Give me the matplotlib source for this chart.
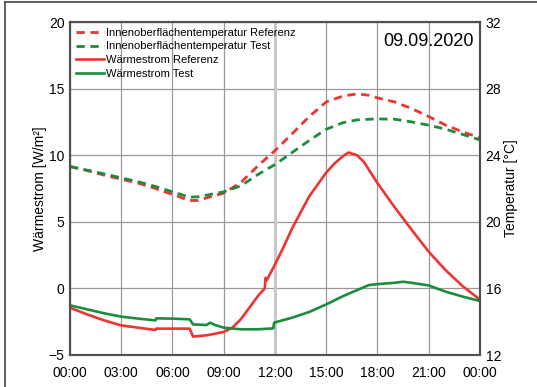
import numpy as np
import matplotlib
matplotlib.use('agg')
import matplotlib.pyplot as plt
from matplotlib.lines import Line2D

plt.rcParams['font.family'] = ['Liberation Sans', 'DejaVu Sans']

# Innenoberflaechentemperatur [degC], right axis
t_temp = [0, 1, 2, 3, 4, 5, 6, 7, 7.5, 8, 9, 10, 11, 12, 13, 14, 15, 16, 16.8, 17.5,
          18, 19, 20, 21, 22, 23, 24]
temp_ref = [23.32, 23.08, 22.8, 22.56, 22.32, 22.0, 21.64, 21.28, 21.28, 21.44, 21.72,
            22.36, 23.36, 24.28, 25.28, 26.32, 27.2, 27.56, 27.68, 27.6, 27.44, 27.2,
            26.8, 26.32, 25.8, 25.4, 25.04]
temp_test = [23.32, 23.1, 22.88, 22.64, 22.4, 22.12, 21.8, 21.48, 21.5, 21.6, 21.8,
             22.16, 22.84, 23.44, 24.16, 24.88, 25.56, 25.96, 26.12, 26.16, 26.18, 26.16,
             26.0, 25.8, 25.56, 25.24, 24.92]

# Waermestrom [W/m2], left axis
t_ref = [0, 1, 2, 3, 4, 5, 5.05, 6, 7, 7.1, 7.2, 8, 8.5, 9, 9.5, 10, 10.5, 11, 11.4,
         11.45, 11.5, 11.55, 11.8, 12, 12.5, 13, 14, 15, 15.5, 16, 16.3, 16.8, 17.2, 18,
         19, 20, 21, 22, 23, 24]
q_ref = [-1.45, -1.95, -2.4, -2.78, -2.95, -3.12, -3.02, -3.02, -3.02, -3.3, -3.62, -3.52,
         -3.4, -3.27, -2.95, -2.32, -1.45, -0.57, 0.0, 0.8, 0.6, 0.7, 1.3, 1.8, 3.1, 4.5,
         6.9, 8.7, 9.4, 9.95, 10.2, 10.0, 9.5, 7.9, 6.1, 4.4, 2.75, 1.35, 0.15, -0.85]
t_test = [0, 1, 2, 3, 4, 5, 5.05, 6, 7, 7.1, 7.2, 8, 8.2, 8.5, 9, 10, 11, 11.9, 11.95,
          13, 14, 15, 16, 17, 17.5, 18, 19, 19.5, 20, 21, 22, 23, 24]
q_test = [-1.27, -1.57, -1.87, -2.12, -2.27, -2.4, -2.25, -2.27, -2.32, -2.5, -2.7, -2.75,
          -2.57, -2.75, -2.95, -3.07, -3.07, -3.0, -2.57, -2.2, -1.77, -1.2, -0.57, -0.02,
          0.25, 0.32, 0.42, 0.5, 0.42, 0.22, -0.25, -0.62, -0.95]

xticks = [0, 3, 6, 9, 12, 15, 18, 21, 24]
xticklabels = ['00:00', '03:00', '06:00', '09:00', '12:00', '15:00', '18:00', '21:00', '00:00']

red = '#ee3333'
green = '#1a8c3c'
fsize = 10

fig = plt.figure(figsize=[5.37, 3.87], dpi=100)
ax = fig.add_axes([70/537, 1-355/387, 410/537, 333/387])
ax2 = ax.twinx()

l3, = ax.plot(t_ref, q_ref, '-', color=red, linewidth=1.9, label='Wärmestrom Referenz')
l4, = ax.plot(t_test, q_test, '-', color=green, linewidth=1.9, label='Wärmestrom Test')
l1, = ax2.plot(t_temp, temp_ref, '--', color=red, linewidth=2, dashes=(3, 2),
               label='Innenoberflächentemperatur Referenz')
l2, = ax2.plot(t_temp, temp_test, '--', color=green, linewidth=2, dashes=(3, 2),
               label='Innenoberflächentemperatur Test')

ax.set_xlim(0, 24)
ax.set_ylim(-5, 20)
ax2.set_ylim(12, 32)
ax.set_xticks(xticks)
ax.set_xticklabels(xticklabels)
ax.set_yticks([-5, 0, 5, 10, 15, 20])
ax2.set_yticks([12, 16, 20, 24, 28, 32])
ax.grid(color='#999999', linewidth=0.9)
ax.axvline(12, color='#c8c8c8', linewidth=2.2, zorder=1)
ax.set_axisbelow(True)
ax.tick_params(axis='y', length=0, labelsize=fsize, pad=4)
ax.tick_params(axis='x', length=0, labelsize=fsize, pad=8)
ax2.tick_params(length=0, labelsize=fsize, pad=4)
for a in (ax, ax2):
    for s in a.spines.values():
        s.set_color('#505050')
        s.set_linewidth(1.5)
ax.set_ylabel('Wärmestrom [W/m²]', fontsize=fsize, labelpad=1)
ax2.set_ylabel('Temperatur [°C]', fontsize=fsize, labelpad=2)

ax2.legend(handles=[l1, l2, l3, l4], loc='upper left', frameon=False, fontsize=8,
           handlelength=2.6, handletextpad=0.15, labelspacing=0.35,
           borderaxespad=0.2, borderpad=0.3)
ax2.text(0.985, 0.94, '09.09.2020', transform=ax2.transAxes, ha='right', va='center',
         fontsize=13)

# frame of the screenshot
fig.add_artist(Line2D([5/537, 5/537], [0, 1-2/387], color='#444444', linewidth=1.2))
fig.add_artist(Line2D([5/537, 1], [1-2/387, 1-2/387], color='#444444', linewidth=1.2))

plt.savefig('out.png', format='png')
